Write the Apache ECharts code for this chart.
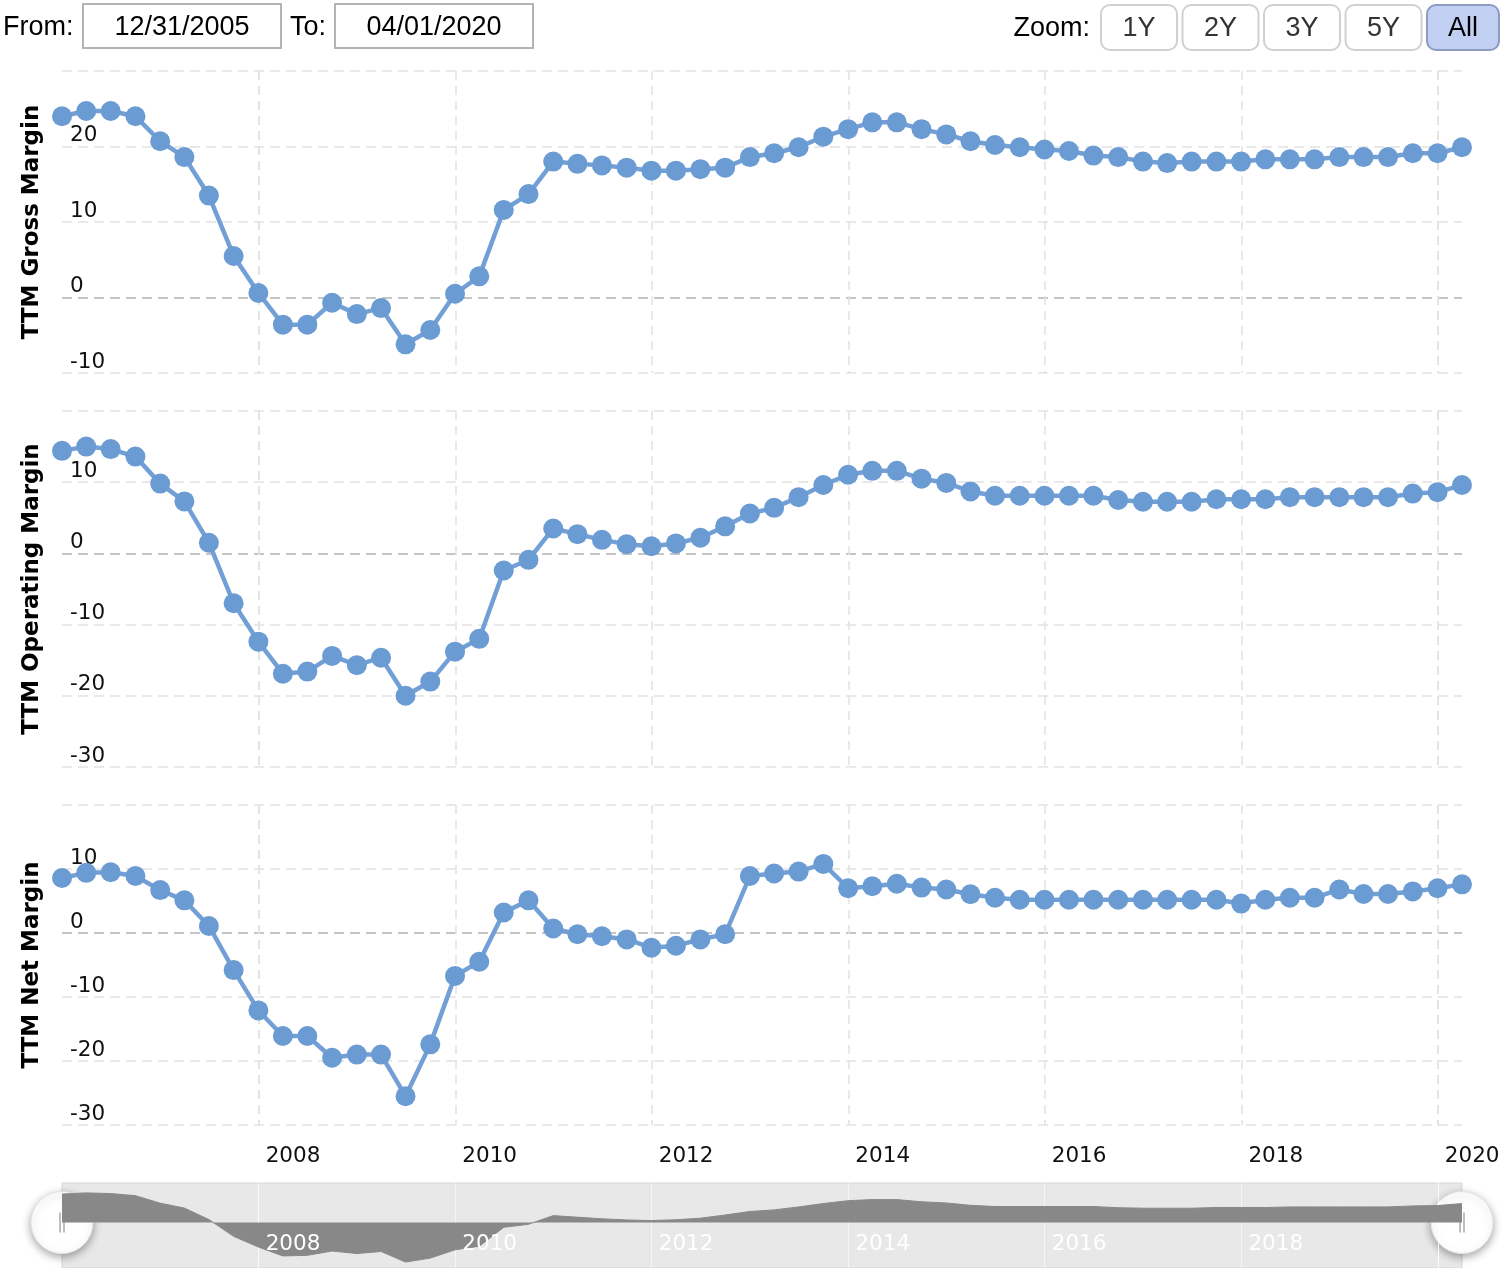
<!DOCTYPE html>
<html><head><meta charset="utf-8">
<script src="https://cdn.jsdelivr.net/npm/echarts@6/dist/echarts.min.js"></script>
<style>html,body{margin:0;padding:0;background:#fff}#c{width:1504px;height:1268px}</style>
</head><body><div id="c"></div>
<script>
// ---------- DATA ----------
const dates = [
  '2005-12-31',
  '2006-03-31','2006-06-30','2006-09-30','2006-12-31',
  '2007-03-31','2007-06-30','2007-09-30','2007-12-31',
  '2008-03-31','2008-06-30','2008-09-30','2008-12-31',
  '2009-03-31','2009-06-30','2009-09-30','2009-12-31',
  '2010-03-31','2010-06-30','2010-09-30','2010-12-31',
  '2011-03-31','2011-06-30','2011-09-30','2011-12-31',
  '2012-03-31','2012-06-30','2012-09-30','2012-12-31',
  '2013-03-31','2013-06-30','2013-09-30','2013-12-31',
  '2014-03-31','2014-06-30','2014-09-30','2014-12-31',
  '2015-03-31','2015-06-30','2015-09-30','2015-12-31',
  '2016-03-31','2016-06-30','2016-09-30','2016-12-31',
  '2017-03-31','2017-06-30','2017-09-30','2017-12-31',
  '2018-03-31','2018-06-30','2018-09-30','2018-12-31',
  '2019-03-31','2019-06-30','2019-09-30','2019-12-31',
  '2020-03-31'
];
const grossMargin = [24.0, 24.7, 24.7, 24.0, 20.7, 18.6, 13.5, 5.5, 0.6, -3.6,
  -3.6, -0.7, -2.2, -1.4, -6.2, -4.3, 0.5, 2.8, 11.6, 13.7,
  18.0, 17.7, 17.5, 17.2, 16.8, 16.8, 17.0, 17.2, 18.6, 19.1,
  19.9, 21.3, 22.3, 23.2, 23.2, 22.3, 21.6, 20.7, 20.2, 19.9,
  19.6, 19.4, 18.8, 18.6, 18.0, 17.8, 18.0, 18.0, 18.0, 18.3,
  18.3, 18.3, 18.6, 18.6, 18.6, 19.1, 19.1, 19.9];
const operatingMargin = [14.4, 15.0, 14.65, 13.6, 9.8, 7.3, 1.5, -7.0, -12.4, -16.9,
  -16.6, -14.4, -15.7, -14.65, -20.0, -18.0, -13.8, -12.0, -2.4, -0.9,
  3.5, 2.7, 1.9, 1.3, 1.0, 1.4, 2.2, 3.8, 5.6, 6.4,
  7.9, 9.6, 11.05, 11.6, 11.6, 10.5, 9.9, 8.7, 8.1, 8.1,
  8.1, 8.1, 8.1, 7.5, 7.25, 7.25, 7.25, 7.6, 7.6, 7.6,
  7.9, 7.9, 7.9, 7.9, 7.9, 8.4, 8.6, 9.6];
const netMargin = [8.6, 9.4, 9.5, 8.9, 6.7, 5.1, 1.1, -5.8, -12.1, -16.1,
  -16.1, -19.5, -19.0, -19.0, -25.5, -17.4, -6.7, -4.5, 3.2, 5.1,
  0.7, -0.2, -0.5, -1.0, -2.3, -2.0, -1.0, -0.2, 8.9, 9.3,
  9.6, 10.8, 7.0, 7.3, 7.7, 7.1, 6.8, 6.05, 5.5, 5.2,
  5.2, 5.2, 5.2, 5.2, 5.2, 5.2, 5.2, 5.2, 4.6, 5.2,
  5.5, 5.5, 6.8, 6.1, 6.1, 6.5, 7.0, 7.6];
const yearTicks = ['2008-01-01','2010-01-01','2012-01-01','2014-01-01','2016-01-01','2018-01-01','2020-01-01'];
const navigatorYearTicks = ['2008-01-01','2010-01-01','2012-01-01','2014-01-01','2016-01-01','2018-01-01'];
const panelTitles = ['TTM Gross Margin', 'TTM Operating Margin', 'TTM Net Margin'];
const fromDate = '12/31/2005';
const toDate = '04/01/2020';
const zoomButtons = ['1Y', '2Y', '3Y', '5Y', 'All'];

// ---------- CHART ----------
const LINE = '#6a9bd2';
const GRID_C = '#e2e2e2';
const ZERO_C = '#b2b2b2';
const LABEL_FONT = 'DejaVu Sans';
const UI_FONT = '"Liberation Sans", Arial, Helvetica, sans-serif';

const chart = echarts.init(document.getElementById('c'), null, {renderer: 'canvas'});

function pairs(vals) { return dates.map((d, i) => [d, vals[i]]); }

function xAx(i, extra) {
  return Object.assign({
    type: 'time', gridIndex: i, position: 'bottom', min: dates[0], max: dates[dates.length - 1],
    axisLine: {show: false}, axisTick: {show: false, customValues: yearTicks},
    axisLabel: {show: false, customValues: yearTicks},
    splitLine: {show: true, lineStyle: {color: GRID_C, type: [9, 6], width: 1.5}}
  }, extra || {});
}
function yAx(i, min, max, name, zeroIndex) {
  const n = Math.round((max - min) / 10) + 1;
  const colors = [];
  for (let k = 0; k < n; k++) colors.push(k === zeroIndex ? ZERO_C : GRID_C);
  return {
    type: 'value', gridIndex: i, min: min, max: max, interval: 10,
    name: name, nameLocation: 'middle', nameRotate: 90, nameGap: 18,
    nameTextStyle: {fontFamily: LABEL_FONT, fontWeight: 'bold', fontSize: 23, color: '#000'},
    axisLine: {show: false}, axisTick: {show: false},
    axisLabel: {inside: true, margin: 8, showMaxLabel: false, verticalAlign: 'bottom',
      fontFamily: LABEL_FONT, fontSize: 21.5, color: '#111'},
    splitLine: {show: true, lineStyle: {color: colors, type: [10, 6], width: 1.5}}
  };
}
function lineSeries(i, vals) {
  return {
    type: 'line', xAxisIndex: i, yAxisIndex: i, data: pairs(vals),
    symbol: 'circle', symbolSize: 20, showSymbol: true,
    lineStyle: {width: 4.5, color: '#72a0d6'}, itemStyle: {color: LINE},
    emphasis: {disabled: true}, animation: false, z: 3
  };
}

// top bar graphics
const graphics = [];
function txt(x, y, s, align, size, color) {
  graphics.push({type: 'text', style: {x: x, y: y, text: s, align: align, verticalAlign: 'middle',
    textAlign: align, textVerticalAlign: 'middle', font: size + 'px ' + UI_FONT, fill: color || '#000'}});
}
txt(3, 28, 'From:', 'left', 27);
graphics.push({type: 'rect', shape: {x: 83, y: 4, width: 198, height: 44}, style: {fill: '#fff', stroke: '#b4b4b4', lineWidth: 2}});
txt(182, 28, fromDate, 'center', 27);
txt(290, 28, 'To:', 'left', 27);
graphics.push({type: 'rect', shape: {x: 335, y: 4, width: 198, height: 44}, style: {fill: '#fff', stroke: '#b4b4b4', lineWidth: 2}});
txt(434, 28, toDate, 'center', 27);
txt(1090, 29, 'Zoom:', 'right', 27);
zoomButtons.forEach((b, i) => {
  const x = 1101 + i * 81.5;
  const w = i === zoomButtons.length - 1 ? 72 : 76;
  const sel = i === zoomButtons.length - 1;
  graphics.push({type: 'rect', shape: {x: x, y: 5, width: w, height: 45, r: 9},
    style: {fill: sel ? '#c0cff2' : '#fff', stroke: sel ? '#8c9cc0' : '#d0d0d0', lineWidth: 2}});
  txt(x + w / 2, 29, b, 'center', 27, sel ? '#000' : '#333');
});

const option = {
  backgroundColor: '#fff',
  animation: false,
  grid: [
    {left: 62, right: 42, top: 71, height: 302, outerBoundsMode: 'none'},
    {left: 62, right: 42, top: 411, height: 356, outerBoundsMode: 'none'},
    {left: 62, right: 42, top: 805, height: 320, outerBoundsMode: 'none'},
    {left: 62, right: 42, top: 1183, height: 85, outerBoundsMode: 'none', show: true,
      backgroundColor: '#e8e8e8', borderColor: '#d6d6d6', borderWidth: 1}
  ],
  xAxis: [
    xAx(0), xAx(1),
    xAx(2, {axisLabel: {show: true, customValues: yearTicks, formatter: '{yyyy}', align: 'left',
      padding: [0, 0, 0, 7], margin: 20, fontFamily: LABEL_FONT, fontSize: 21.5, color: '#111'}}),
    xAx(3, {axisLabel: {show: false},
      splitLine: {show: true, lineStyle: {color: 'rgba(255,255,255,0.6)', width: 1, type: 'solid'}}}),
    xAx(3, {z: 20, position: 'bottom', offset: 0, axisLabel: {show: true, inside: true, customValues: navigatorYearTicks,
      formatter: '{yyyy}', align: 'left', padding: [0, 0, 0, 7], margin: 13,
      fontFamily: LABEL_FONT, fontSize: 21.5, color: '#fff'},
      splitLine: {show: false}})
  ],
  yAxis: [
    yAx(0, -10, 30, panelTitles[0], 1),
    yAx(1, -30, 20, panelTitles[1], 3),
    yAx(2, -30, 20, panelTitles[2], 3),
    {type: 'value', gridIndex: 3, min: -23, max: 20, show: false, splitLine: {show: false}}
  ],
  series: [
    lineSeries(0, grossMargin),
    lineSeries(1, operatingMargin),
    lineSeries(2, netMargin),
    {type: 'line', xAxisIndex: 3, yAxisIndex: 3, data: pairs(operatingMargin),
      symbol: 'none', showSymbol: false, lineStyle: {width: 1, color: '#888'},
      areaStyle: {color: '#888888', opacity: 1}, silent: true, z: 2}
  ],
  graphic: graphics
};
chart.setOption(option);

// navigator handles placed via the navigator's own scales
const hs = [];
[dates[0], dates[dates.length - 1]].forEach((d, k) => {
  const p = chart.convertToPixel({gridIndex: 3}, [d, 0]);
  hs.push({type: 'group', x: p[0], y: p[1], z: 100, children: [
    {type: 'circle', shape: {cx: 0, cy: 0, r: 31},
      style: {fill: '#fff', stroke: '#e4e4e4', lineWidth: 1, shadowBlur: 8, shadowColor: 'rgba(0,0,0,0.35)', shadowOffsetY: 3}},
    {type: 'line', shape: {x1: -2, y1: -10, x2: -2, y2: 10}, style: {stroke: '#a8a8a8', lineWidth: 1.5}},
    {type: 'line', shape: {x1: 2, y1: -10, x2: 2, y2: 10}, style: {stroke: '#a8a8a8', lineWidth: 1.5}}
  ]});
});
chart.setOption({graphic: graphics.concat(hs)});
</script>
</body></html>
